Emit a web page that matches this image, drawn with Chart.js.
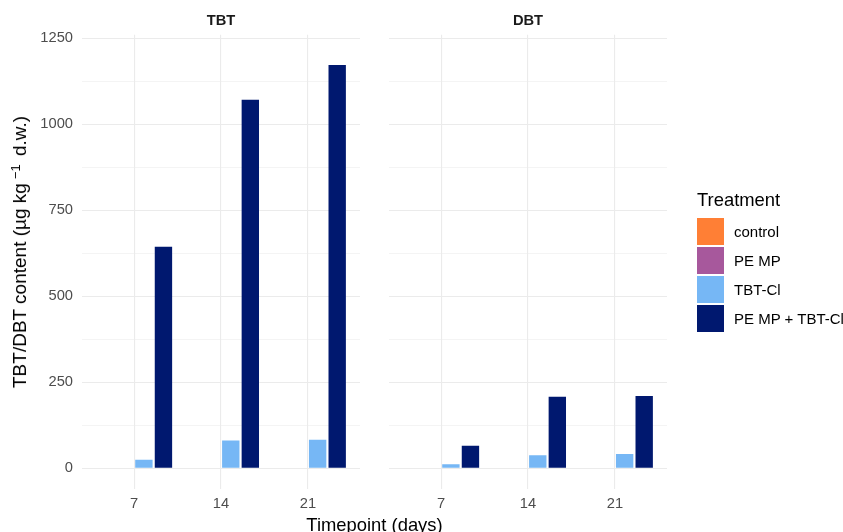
<!DOCTYPE html>
<html>
<head>
<meta charset="utf-8">
<script src="https://cdn.jsdelivr.net/npm/chart.js@4.4.1/dist/chart.umd.min.js"></script>
<style>
  html, body { margin: 0; padding: 0; background: #ffffff; }
  #wrap { position: relative; width: 843px; height: 532px; overflow: hidden;
          font-family: "Liberation Sans", Arial, sans-serif; }
  #wrap canvas { position: absolute; left: 0; top: 0; }
  .txt { position: absolute; white-space: nowrap; color: #000; }
  .strip { font-weight: bold; font-size: 14.7px; line-height: 16px; color: #1a1a1a;
           transform: translateX(-50%); }
  .axtitle { font-size: 18.4px; line-height: 18px; }
  .key { position: absolute; width: 27px; height: 27px; }
  .keylab { position: absolute; font-size: 15px; line-height: 15px; color: #000; white-space: nowrap; }
  sup { font-size: 13px; line-height: 0; vertical-align: 0.5em; margin: 0 3px 0 4px; }
</style>
</head>
<body>
<div id="wrap">
  <canvas id="chartTBT" width="843" height="532"></canvas>
  <canvas id="chartDBT" width="843" height="532"></canvas>
  <div class="txt strip" style="left:221px; top:12px;">TBT</div>
  <div class="txt strip" style="left:528px; top:12px;">DBT</div>
  <div class="txt axtitle" style="left:20px; top:252px; font-size:19px; transform: translate(-50%, -50%) rotate(-90deg);">TBT/DBT content (µg kg<sup>−1</sup> d.w.)</div>
  <div class="txt axtitle" style="left:374.5px; top:515.5px; transform: translateX(-50%);">Timepoint (days)</div>
  <div id="legend"></div>
</div>
<script>
// Sampling days (x axis)
const timepoints = [7, 14, 21];

// Treatment groups and their fill colours
const treatments = ['control', 'PE MP', 'TBT-Cl', 'PE MP + TBT-Cl'];
const treatmentColors = ['#FF7F35', '#A7589C', '#76B7F5', '#00186F'];

// TBT content per treatment (µg kg-1 d.w.)
const tbtControl = [0, 0, 0];
const tbtPEMP = [0, 0, 0];
const tbtTBTCl = [25, 81, 83];
const tbtPEMPTBTCl = [644, 1071, 1172];

// DBT content per treatment (µg kg-1 d.w.)
const dbtControl = [0, 0, 0];
const dbtPEMP = [0, 0, 0];
const dbtTBTCl = [12, 38, 42];
const dbtPEMPTBTCl = [66, 208, 210];

// Y axis: labelled breaks and the unlabelled minor breaks between them
const yTicks = [0, 250, 500, 750, 1000, 1250];
const yMinorTicks = [125, 375, 625, 875, 1125];

// Shared panel geometry (pixels)
const PANEL_TOP = 34.7;
const PANEL_BOTTOM = 489;
const CANVAS_H = 532;
const GRID = '#EBEBEB';

function panelChart(canvasId, series, padLeft, padRight, yAxisWidth, showYLabels) {
  return new Chart(document.getElementById(canvasId), {
    type: 'bar',
    data: {
      datasets: treatments.map((name, i) => ({
        label: name,
        data: timepoints.map((t, j) => ({ x: t, y: series[i][j] })),
        backgroundColor: treatmentColors[i],
        borderWidth: 0,
        categoryPercentage: 0.9,
        barPercentage: 0.8 / 0.9
      }))
    },
    options: {
      responsive: false,
      animation: false,
      devicePixelRatio: 1,
      layout: { padding: { left: padLeft, right: padRight, top: PANEL_TOP, bottom: 0 } },
      plugins: { legend: { display: false }, tooltip: { enabled: false } },
      scales: {
        x: {
          type: 'linear',
          offset: false,
          min: 2.8,
          max: 25.2,
          afterBuildTicks: (s) => { s.ticks = timepoints.map(v => ({ value: v })); },
          afterFit: (s) => { s.height = CANVAS_H - PANEL_BOTTOM; },
          grid: { offset: false, color: GRID, lineWidth: 1.1, drawTicks: false },
          border: { display: false },
          ticks: {
            autoSkip: false,
            maxRotation: 0,
            padding: 6,
            color: '#4D4D4D',
            font: { family: '"Liberation Sans", Arial, sans-serif', size: 14.7 },
            callback: (v) => String(v)
          }
        },
        y: {
          min: -60,
          max: 1260,
          afterBuildTicks: (s) => {
            s.ticks = yTicks.concat(yMinorTicks).sort((a, b) => a - b).map(v => ({ value: v }));
          },
          afterFit: (s) => { s.width = yAxisWidth; },
          grid: {
            color: GRID,
            drawTicks: false,
            lineWidth: (ctx) => (ctx.tick && yTicks.includes(ctx.tick.value)) ? 1.1 : 0.55
          },
          border: { display: false },
          ticks: {
            display: showYLabels,
            autoSkip: false,
            padding: 9,
            color: '#4D4D4D',
            font: { family: '"Liberation Sans", Arial, sans-serif', size: 14.7 },
            callback: (v) => yTicks.includes(v) ? String(v) : ''
          }
        }
      }
    }
  });
}

panelChart('chartTBT', [tbtControl, tbtPEMP, tbtTBTCl, tbtPEMPTBTCl], 0, 843 - 360, 82, true);
panelChart('chartDBT', [dbtControl, dbtPEMP, dbtTBTCl, dbtPEMPTBTCl], 389, 843 - 667, 0, false);

// Treatment legend
const legend = document.getElementById('legend');
const title = document.createElement('div');
title.className = 'txt axtitle';
title.style.left = '697px';
title.style.top = '191px';
title.textContent = 'Treatment';
legend.appendChild(title);
treatments.forEach((name, i) => {
  const top = 218 + 29 * i;
  const key = document.createElement('div');
  key.className = 'key';
  key.style.left = '697px';
  key.style.top = top + 'px';
  key.style.background = treatmentColors[i];
  legend.appendChild(key);
  const lab = document.createElement('div');
  lab.className = 'keylab';
  lab.style.left = '734px';
  lab.style.top = (top + 6) + 'px';
  lab.textContent = name;
  legend.appendChild(lab);
});
</script>
</body>
</html>
